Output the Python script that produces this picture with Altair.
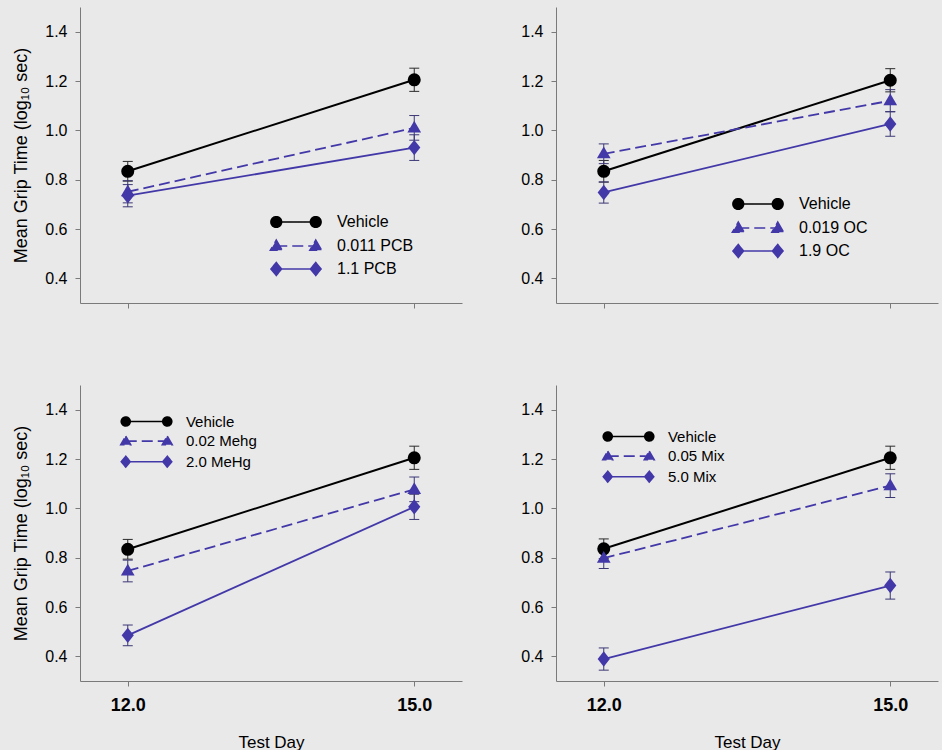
import altair as alt
import pandas as pd

# Test days (x positions)
days = [12.0, 15.0]

# Mean grip time (log10 sec) and SEM per group, one list per group: [day 12, day 15]
pcb_groups = ["Vehicle", "0.011 PCB", "1.1 PCB"]
pcb_means = [[0.834, 1.205], [0.751, 1.010], [0.735, 0.930]]
pcb_sems = [[0.040, 0.047], [0.045, 0.050], [0.045, 0.052]]

oc_groups = ["Vehicle", "0.019 OC", "1.9 OC"]
oc_means = [[0.834, 1.203], [0.905, 1.120], [0.748, 1.026]]
oc_sems = [[0.044, 0.047], [0.040, 0.045], [0.043, 0.050]]

mehg_groups = ["Vehicle", "0.02 Mehg", "2.0 MeHg"]
mehg_means = [[0.834, 1.205], [0.746, 1.077], [0.485, 1.006]]
mehg_sems = [[0.040, 0.047], [0.044, 0.050], [0.042, 0.051]]

mix_groups = ["Vehicle", "0.05 Mix", "5.0 Mix"]
mix_means = [[0.836, 1.205], [0.798, 1.092], [0.389, 0.687]]
mix_sems = [[0.040, 0.047], [0.042, 0.048], [0.045, 0.055]]

y_ticks = [0.4, 0.6, 0.8, 1.0, 1.2, 1.4]

# ---- styling ----
FONT = "Liberation Sans"
BLUE = "#4338a8"
line_colors = ["#000000", BLUE, BLUE]
bar_colors = ["#2b2b2b", "#3b3775", "#3b3775"]
line_widths = [2.0, 1.8, 1.8]
dashes = [[1, 0], [11, 5], [1, 0]]
marker_shapes = [
    "circle",
    "M0,-1.1L1.05,0.7L-1.05,0.7Z",
    "M0,-1.2L0.95,0L0,1.2L-0.95,0Z",
]
marker_sizes = [170, 170, 165]

W, H = 382, 296


def key_glyph(kind, half, r):
    """Legend key: a short line with a marker at both ends (unit coordinates)."""
    f = lambda v: f"{v:.3f}"
    path = f"M{f(-half)},0L{f(half)},0"
    for cx in (-half, half):
        if kind == 0:
            path += (f"M{f(cx - r)},0A{f(r)},{f(r)} 0 1,0 {f(cx + r)},0"
                     f"A{f(r)},{f(r)} 0 1,0 {f(cx - r)},0Z")
        elif kind == 1:
            path += (f"M{f(cx)},{f(-1.1 * r)}L{f(cx + 1.1 * r)},{f(0.8 * r)}"
                     f"L{f(cx - 1.1 * r)},{f(0.8 * r)}Z")
        else:
            path += (f"M{f(cx)},{f(-1.2 * r)}L{f(cx + r)},0"
                     f"L{f(cx)},{f(1.2 * r)}L{f(cx - r)},0Z")
    return path


def panel(groups, means, sems, left, bottom, key):
    rows = []
    for g, m, s in zip(groups, means, sems):
        for d, mv, sv in zip(days, m, s):
            rows.append({"group": g, "day": d, "mean": mv,
                         "lo": mv - sv, "hi": mv + sv})
    df = pd.DataFrame(rows)

    x_axis = alt.Axis(values=days, format=".1f", labels=bottom,
                      title="Test Day" if bottom else None,
                      labelFontSize=18, labelFontWeight="bold",
                      labelPadding=10, titleFontSize=17, titlePadding=20)
    y_axis = alt.Axis(values=y_ticks, format=".1f",
                      title="Mean Grip Time (log\u2081\u2080 sec)" if left else None,
                      labelFontSize=16, labelPadding=8,
                      titleFontSize=18, titlePadding=14)
    xs = alt.Scale(domain=[11.5, 15.5], nice=False, zero=False)
    ys = alt.Scale(domain=[0.3, 1.5], nice=False, zero=False)
    x_enc = alt.X("day:Q", scale=xs, axis=x_axis)

    base = alt.Chart(df)
    layers = []
    for i, g in enumerate(groups):
        sub = base.transform_filter(alt.datum.group == g)
        layers.append(
            sub.mark_errorbar(ticks=True, size=10, thickness=1,
                              color=bar_colors[i], opacity=1)
            .encode(x=x_enc, y=alt.Y("lo:Q", scale=ys, axis=y_axis),
                    y2="hi:Q")
        )
        line_kw = dict(color=line_colors[i], strokeWidth=line_widths[i])
        if dashes[i] != [1, 0]:
            line_kw["strokeDash"] = dashes[i]
        layers.append(
            sub.mark_line(**line_kw)
            .encode(x=x_enc, y=alt.Y("mean:Q", scale=ys, axis=y_axis))
        )
    for i, g in enumerate(groups):
        sub = base.transform_filter(alt.datum.group == g)
        layers.append(
            sub.mark_point(shape=marker_shapes[i], filled=True, opacity=1,
                           size=marker_sizes[i], color=line_colors[i],
                           strokeWidth=0)
            .encode(x=x_enc, y=alt.Y("mean:Q", scale=ys, axis=y_axis))
        )

    # legend: keys drawn from the group scales only (no marks of its own)
    glyphs = [key_glyph(k, key["half"], key["r"]) for k in range(3)]
    legend = alt.Legend(
        title=None, orient="none", legendX=key["x"], legendY=key["y"],
        symbolSize=key["d"] ** 2, symbolStrokeWidth=1.6,
        labelFont=FONT, labelFontSize=key["fs"], labelColor="black",
        labelOffset=key["off"], rowPadding=key["rp"], padding=0,
        labelLimit=400,
    )
    layers.append(
        base.transform_filter("false")
        .mark_point(filled=True, opacity=1)
        .encode(
            x=x_enc,
            y=alt.Y("mean:Q", scale=ys, axis=y_axis),
            shape=alt.Shape("group:N", scale=alt.Scale(domain=groups, range=glyphs), legend=legend),
            fill=alt.Fill("group:N", scale=alt.Scale(domain=groups, range=line_colors), legend=legend),
            stroke=alt.Stroke("group:N", scale=alt.Scale(domain=groups, range=line_colors), legend=legend),
            strokeDash=alt.StrokeDash("group:N", scale=alt.Scale(domain=groups, range=dashes), legend=legend),
        )
    )
    return alt.layer(*layers).properties(width=W, height=H)


top_key = dict(d=14, half=2.82, r=0.76, fs=16, off=33, rp=5)
bot_key = dict(d=12, half=3.46, r=0.75, fs=15, off=31.9, rp=2.6)

p1 = panel(pcb_groups, pcb_means, pcb_sems, True, False, dict(top_key, x=208, y=207))
p2 = panel(oc_groups, oc_means, oc_sems, False, False, dict(top_key, x=194, y=189))
p3 = panel(mehg_groups, mehg_means, mehg_sems, True, True, dict(bot_key, x=59, y=29))
p4 = panel(mix_groups, mix_means, mix_sems, False, True, dict(bot_key, x=65, y=44))

indep = dict(shape="independent", fill="independent",
             stroke="independent", strokeDash="independent")

top_row = alt.hconcat(p1, p2, spacing=58).resolve_scale(**indep)
bottom_row = alt.hconcat(p3, p4, spacing=58).resolve_scale(**indep)

chart = (
    alt.vconcat(top_row, bottom_row, spacing=76)
    .resolve_scale(**indep)
    .properties(padding={"left": 12, "top": 7, "right": 4, "bottom": 0},
                background="#e9e9e9")
    .configure_view(stroke=None)
    .configure_axis(grid=False, domainColor="#7a7a7a", tickColor="#7a7a7a",
                    domainWidth=1, tickWidth=1, tickSize=5,
                    labelFont=FONT, titleFont=FONT, labelColor="black",
                    titleColor="black", titleFontWeight="normal")
)

chart.save("out.html", embed_options={"renderer": "svg", "actions": False})
